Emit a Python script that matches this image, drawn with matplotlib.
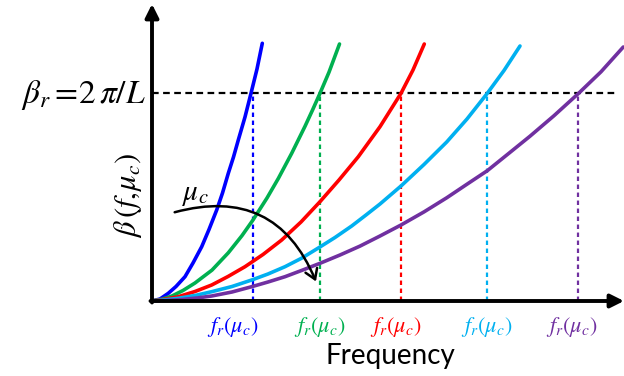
import matplotlib
matplotlib.use("Agg")
import matplotlib.pyplot as plt
from matplotlib.patches import FancyArrowPatch

plt.rcParams['mathtext.fontset'] = 'stix'

# ---- data (frequency, beta) ----
blue_f = [0, 8, 16.3, 24, 33, 41, 49.7, 57, 64.7, 70.5, 76.3, 81.5, 86.3, 93, 99, 105, 110.3]
blue_b = [0, 2, 7.7, 14.5, 24.3, 38, 54.3, 71.5, 91, 108, 127.7, 144, 161, 184, 207.7, 232, 257.7]
green_f = [0, 10, 20, 31, 43, 60, 76.3, 90, 100.7, 115, 126.3, 139.7, 153, 160.5, 168, 177, 187.5]
green_b = [0, 1.8, 5, 10.5, 18, 30.9, 48.2, 65.4, 80.6, 103, 122.5, 147.7, 174.7, 190.9, 207.7, 228.8, 257]
red_f = [0, 13, 26.3, 43, 59.7, 76, 93, 111, 129.7, 149, 168, 187, 206.3, 228, 249, 261, 272.3]
red_b = [0, 1.8, 4.3, 9.5, 16, 24.5, 34.3, 46.5, 61, 79, 99.3, 121, 144.3, 174.3, 207.7, 231, 257]
cyan_f = [0, 13, 26.3, 43, 59.7, 80, 99.7, 116, 133, 150, 166.3, 183, 199.7, 214, 228, 249, 272,
          294.7, 315, 335.3, 352, 368]
cyan_b = [0, 1.2, 2.7, 5.5, 9.3, 14.5, 21, 27, 34.3, 43, 53, 63.5, 75, 86, 97, 115, 136.5,
          159, 182, 207.7, 230.5, 255]
purple_f = [0, 15, 30, 45, 59.7, 80, 99.7, 116, 133, 150, 168, 188, 208, 228, 249, 272, 294.7,
            315, 335.3, 357, 378, 402, 426.3, 449, 471.3]
purple_b = [0, 0.5, 1.5, 3, 5, 9, 14.3, 19, 24.3, 30.7, 37.7, 46, 54.9, 65, 76, 89.1, 103.2,
            116.8, 130.3, 147.8, 164.8, 185.3, 207.4, 229.2, 254]

series_f = [blue_f, green_f, red_f, cyan_f, purple_f]
series_b = [blue_b, green_b, red_b, cyan_b, purple_b]
colors = ['#0000FF', '#00B050', '#FF0000', '#00B0F0', '#7030A0']
f_r = [100.7, 168, 249, 335.3, 426.3]
f_r_label_x = [81, 168, 244, 335, 420]
beta_r = 208

fig = plt.figure(figsize=(6.24, 3.76), dpi=100)
ax = fig.add_axes([0, 0, 1, 1])
ax.set_xlim(-152, 472)
ax.set_ylim(-75, 301)
ax.axis('off')

# curves
for f, b, c in zip(series_f, series_b, colors):
    ax.plot(f, b, color=c, lw=2.6, solid_capstyle='round', solid_joinstyle='round', zorder=3)

# horizontal dashed beta_r line
ax.plot([0, 463], [beta_r, beta_r], color='black', lw=1.6, ls=(0, (3, 2)), zorder=2)

# vertical dotted lines and labels
for fr, lx, c in zip(f_r, f_r_label_x, colors):
    ax.plot([fr, fr], [0, beta_r], color=c, lw=1.6, ls=(0, (2, 1.6)), zorder=2)
    ax.text(lx, -26, r'$f_r(\mu_c)$', color=c, fontsize=16, ha='center', va='center')

# axes with arrows
ax.annotate('', xy=(472, 0), xytext=(-1.5, 0),
            arrowprops=dict(arrowstyle='-|>,head_length=0.8,head_width=0.4', lw=2.8,
                            color='black', shrinkA=0, shrinkB=0), zorder=4)
ax.annotate('', xy=(0, 297), xytext=(0, -1.5),
            arrowprops=dict(arrowstyle='-|>,head_length=0.8,head_width=0.4', lw=2.8,
                            color='black', shrinkA=0, shrinkB=0), zorder=4)

# curved arrow for mu_c
arr = FancyArrowPatch((20, 88), (165, 17), connectionstyle='arc3,rad=-0.45',
                      arrowstyle='->,head_length=7,head_width=4.5', lw=1.8,
                      color='black', zorder=5)
ax.add_patch(arr)
ax.text(43, 107, r'$\mu_c$', fontsize=21, ha='center', va='center')

# labels
ax.text(-69, beta_r - 2, r'$\beta_r=\!2\,\pi/L$', fontsize=24, ha='center', va='center')
ax.text(-24, 105, r'$\beta\,(f,\!\mu_c)$', fontsize=22, ha='center', va='center',
        rotation=90)
ax.text(238, -55, 'Frequency', fontsize=20, ha='center', va='center',
        family=['Lato', 'DejaVu Sans'])

fig.savefig('out.png', dpi=100)
